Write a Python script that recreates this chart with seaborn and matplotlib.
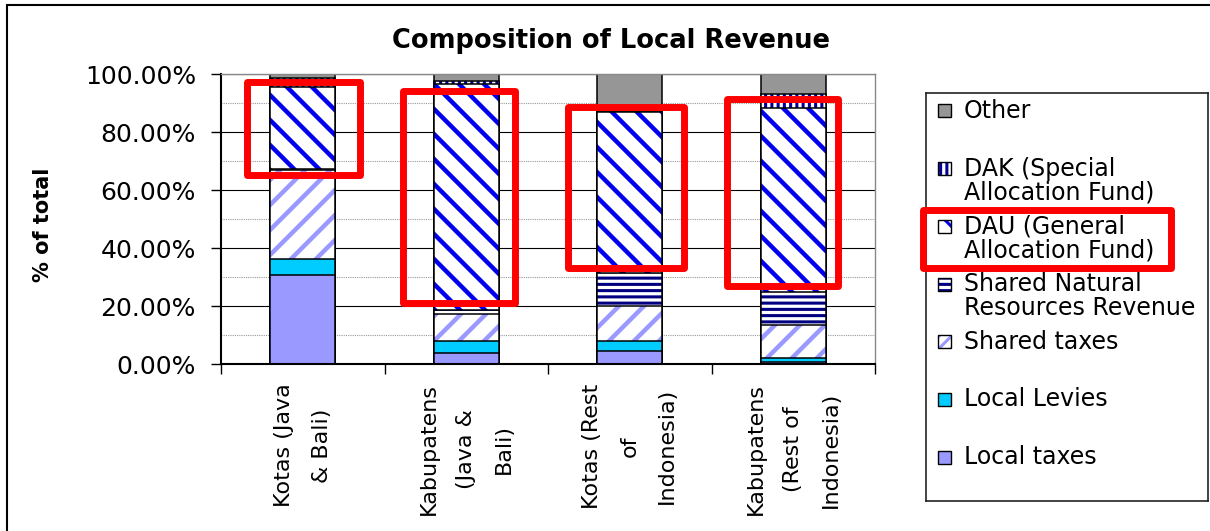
import numpy as np
import pandas as pd
import seaborn as sns
import matplotlib
matplotlib.use("Agg")
from matplotlib import pyplot as plt
from matplotlib.patches import Rectangle
from matplotlib.ticker import PercentFormatter, MultipleLocator
from matplotlib.backend_bases import GraphicsContextBase

# data (% of total local revenue)
regions = ["Kotas (Java\n& Bali)", "Kabupatens\n(Java &\nBali)",
           "Kotas (Rest\nof\nIndonesia)", "Kabupatens\n(Rest of\nIndonesia)"]
local_taxes = [30.8, 3.9, 4.6, 0.8]
local_levies = [5.3, 4.1, 3.4, 1.2]
shared_taxes = [30.8, 9.4, 12.1, 11.5]
shared_nat_res = [0.3, 1.1, 11.2, 11.5]
dau = [28.2, 77.9, 55.7, 63.4]
dak = [3.3, 1.1, 0.0, 4.6]
other = [1.3, 2.5, 13.0, 7.0]

series = ["Local taxes", "Local Levies", "Shared taxes", "Shared Natural Resources Revenue",
          "DAU (General Allocation Fund)", "DAK (Special Allocation Fund)", "Other"]
legend_labels = ["Local taxes", "Local Levies", "Shared taxes", "Shared Natural\nResources Revenue",
                 "DAU (General\nAllocation Fund)", "DAK (Special\nAllocation Fund)", "Other"]

# face colour, hatch, hatch colour, hatch line width, hatch in legend key
styles = {
    "Local taxes": ("#9999FF", None, "#9999FF", 1, None),
    "Local Levies": ("#00CCFF", None, "#00CCFF", 1, None),
    "Shared taxes": ("white", "/", "#9999FF", 3.2, "//"),
    "Shared Natural Resources Revenue": ("white", "--", "#000080", 2.2, "--"),
    "DAU (General Allocation Fund)": ("white", "\\", "#0000EE", 3.2, "\\"),
    "DAK (Special Allocation Fund)": ("white", "||", "#000099", 2.2, "||"),
    "Other": ("#969696", None, "#969696", 1, None),
}

df = pd.DataFrame({"region": regions, "Local taxes": local_taxes, "Local Levies": local_levies,
                   "Shared taxes": shared_taxes, "Shared Natural Resources Revenue": shared_nat_res,
                   "DAU (General Allocation Fund)": dau, "DAK (Special Allocation Fund)": dak,
                   "Other": other})
cum = df[series].cumsum(axis=1)

# tighter hatch spacing, closer to the Excel patterns
_orig_hatch_path = GraphicsContextBase.get_hatch_path


def _dense_hatch_path(self, density=8.3):
    return _orig_hatch_path(self, density)


GraphicsContextBase.get_hatch_path = _dense_hatch_path

sns.set_style("white")
plt.rcParams["font.family"] = ["DejaVu Sans"]
plt.rcParams["hatch.linewidth"] = 3.2
for k in ["text.color", "axes.labelcolor", "xtick.color", "ytick.color"]:
    plt.rcParams[k] = "black"

W, H = 1210, 531
fig = plt.figure(figsize=(W / 100, H / 100), dpi=100)
ax = fig.add_axes([221 / W, 1 - 364 / H, 654 / W, 290 / H])


def set_hatch_lw(patches, lw):
    for p in patches:
        if hasattr(p, "set_hatch_linewidth"):
            p.set_hatch_linewidth(lw)


# stacked bars: draw cumulative totals from the top layer down
for name in reversed(series):
    face, hatch, hcol, hlw, _ = styles[name]
    n0 = len(ax.patches)
    sns.barplot(x=df["region"], y=cum[name], ax=ax, color=face, saturation=1, width=0.4,
                errorbar=None, hatch=hatch, edgecolor=hcol, linewidth=0)
    set_hatch_lw(ax.patches[n0:], hlw)
    sns.barplot(x=df["region"], y=cum[name], ax=ax, fill=False, color="black", width=0.4,
                errorbar=None, linewidth=1.1)

ax.set_xlim(-0.5, 3.5)
ax.set_ylim(0, 100)
ax.set_axisbelow(True)
ax.yaxis.set_major_locator(MultipleLocator(20))
ax.yaxis.set_minor_locator(MultipleLocator(10))
ax.yaxis.set_major_formatter(PercentFormatter(100, decimals=2))
ax.yaxis.grid(True, which="major", color="black", lw=0.8)
ax.yaxis.grid(True, which="minor", color="#999999", lw=0.8, ls=(0, (1, 1)))
ax.xaxis.grid(False, which="both")
ax.tick_params(axis="y", which="major", direction="out", length=7, width=1,
               labelsize=18, pad=11, left=True, color="black")
ax.tick_params(axis="y", which="minor", length=0)
ax.set_xticks(np.arange(-0.5, 4, 1), minor=True)
ax.tick_params(axis="x", which="major", length=0, labelsize=16, pad=14, labelrotation=90)
ax.tick_params(axis="x", which="minor", direction="out", length=7, width=1, bottom=True, color="black")
plt.setp(ax.get_xticklabels(), linespacing=2.1, ha="center", va="top")

for s in ["left", "bottom"]:
    ax.spines[s].set_color("black")
    ax.spines[s].set_linewidth(1.5)
for s in ["top", "right"]:
    ax.spines[s].set_color("#888888")
    ax.spines[s].set_linewidth(1)

ax.set_xlabel("")
ax.set_ylabel("% of total", fontsize=15, fontweight="bold")
ax.yaxis.set_label_coords(-0.257, 0.48)

fig.text(611 / W, 1 - 41 / H, "Composition of Local Revenue", ha="center", va="center",
         fontsize=18.5, fontweight="bold")

# highlight boxes around the DAU segments
for x0, x1, y0, y1 in [(-0.344, 0.353, 65.3, 97.4), (0.616, 1.301, 21.0, 94.3),
                       (1.625, 2.329, 33.1, 88.6), (2.595, 3.274, 26.9, 91.4)]:
    ax.add_patch(Rectangle((x0, y0), x1 - x0, y1 - y0, fill=False, ec="#FF0000", lw=5,
                           joinstyle="round", clip_on=False, zorder=10))

# legend box
lax = fig.add_axes([926 / W, 1 - 501 / H, 282 / W, 408 / H])
lax.set_xlim(0, 282)
lax.set_ylim(408, 0)
lax.set_xticks([])
lax.set_yticks([])
for s in lax.spines.values():
    s.set_color("#222222")
    s.set_linewidth(1.2)
for i, (name, lab) in enumerate(zip(reversed(series), reversed(legend_labels))):
    face, _, hcol, hlw, khatch = styles[name]
    yc = 18 + i * 57.7
    mk = Rectangle((12, yc - 6.5), 13, 13, facecolor=face, hatch=khatch, edgecolor=hcol, lw=0)
    lax.add_patch(mk)
    set_hatch_lw([mk], min(hlw, 2.2))
    lax.add_patch(Rectangle((12, yc - 6.5), 13, 13, fill=False, edgecolor="black", lw=1))
    for k, line in enumerate(lab.split("\n")):
        lax.text(38, yc + k * 24, line, ha="left", va="center", fontsize=17)

lax.add_patch(Rectangle((-3.5, 116.5), 248.5, 58, fill=False, ec="#FF0000", lw=5,
                        joinstyle="round", clip_on=False, zorder=10))

# outer chart frame
fig.add_artist(Rectangle((7 / W, -0.1), 2, 1.1 - 5 / H, transform=fig.transFigure,
                         fill=False, ec="black", lw=1.5))

fig.savefig("out.png", dpi=100)
